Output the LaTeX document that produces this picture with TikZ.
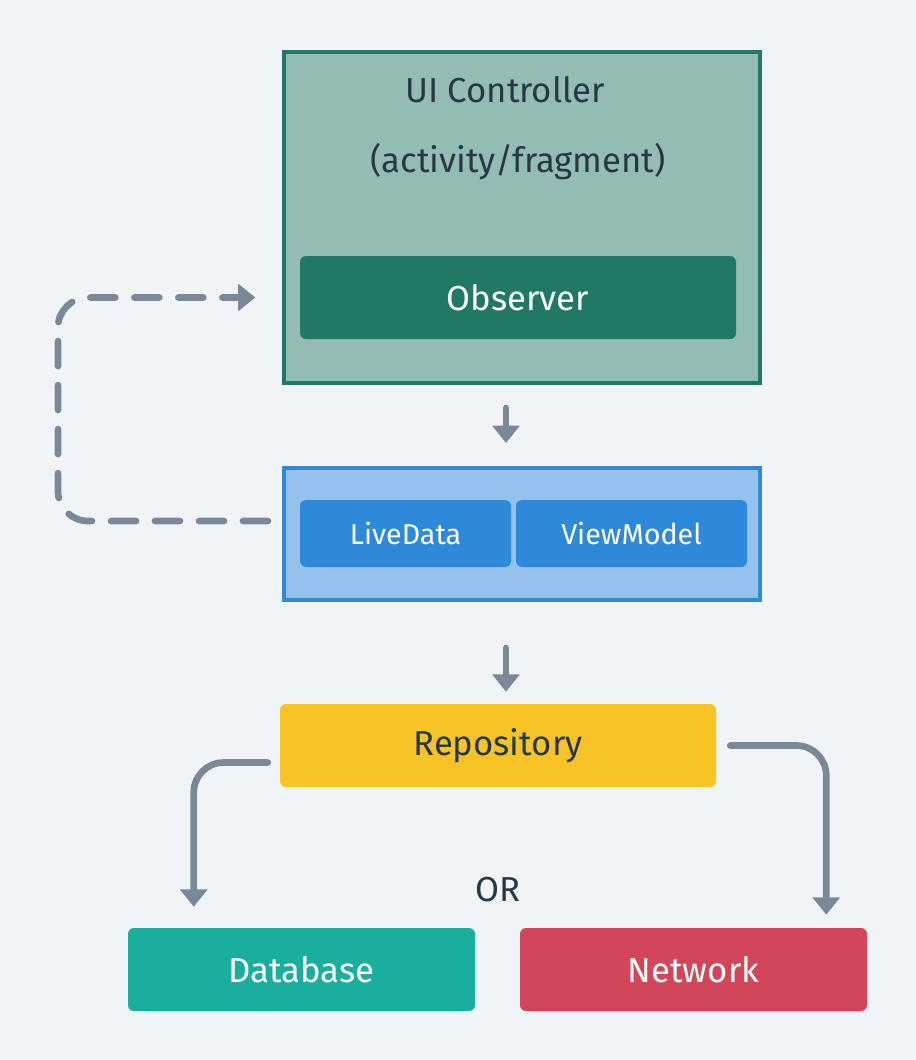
\documentclass[tikz,border=0pt]{standalone}
\usepackage{fontspec}
\setmainfont{Fira Sans}
\usetikzlibrary{arrows.meta}

\definecolor{bgcol}{HTML}{F0F4F7}
\definecolor{tealpale}{HTML}{93BDB4}
\definecolor{tealdark}{HTML}{217867}
\definecolor{bluepale}{HTML}{95C2EC}
\definecolor{bluedark}{HTML}{2E89DA}
\definecolor{repocol}{HTML}{F7C325}
\definecolor{dbcol}{HTML}{1AAE9F}
\definecolor{netcol}{HTML}{D3455B}
\definecolor{arrowcol}{HTML}{7B8897}
\definecolor{inkcol}{HTML}{263746}

\begin{document}
\begin{tikzpicture}[x=0.75pt, y=-0.75pt,
        bigtext/.style={font=\fontsize{26}{30}\selectfont},
        smalltext/.style={font=\fontsize{21.5}{26}\selectfont},
        frame/.style={draw, line width=3pt, inner sep=0pt},
        pill/.style={rounded corners=4.5pt, inner sep=0pt, text=white},
        flow/.style={draw=arrowcol, line width=5pt, line cap=round,
            -{Triangle[length=13pt, width=20pt]}},
        dashflow/.style={flow, dash pattern=on 18.75pt off 14.25pt}]
        % Background
        \fill[bgcol] (0,0) rectangle (916,1060);

        % Pieces
        \node (ui) at (522, 217.5) [frame, draw=tealdark, fill=tealpale,
            minimum width=357pt, minimum height=248.25pt] {};
        \node (uititle) at (505, 90) [bigtext, text=inkcol] {UI Controller};
        \node (uisub) at (518, 162) [bigtext, text=inkcol] {(activity/fragment)};
        \node (obs) at (518, 297.5) [pill, fill=tealdark, bigtext,
            minimum width=327pt, minimum height=62.25pt] {Observer};

        \node (vmbox) at (522, 534) [frame, draw=bluedark, fill=bluepale,
            minimum width=357pt, minimum height=99pt] {};
        \node (live) at (405.5, 533.5) [pill, fill=bluedark, smalltext,
            minimum width=158.25pt, minimum height=50.25pt] {LiveData};
        \node (vm) at (631.5, 533.5) [pill, fill=bluedark, smalltext,
            minimum width=173.25pt, minimum height=50.25pt] {ViewModel};

        \node (repo) at (498, 745.5) [pill, fill=repocol, text=inkcol, bigtext,
            minimum width=327pt, minimum height=62.25pt] {Repository};
        \node (or) at (498, 890) [bigtext, text=inkcol] {OR};
        \node (db) at (301.5, 969.5) [pill, fill=dbcol, bigtext,
            minimum width=260.25pt, minimum height=62.25pt] {Database};
        \node (net) at (693.5, 969.5) [pill, fill=netcol, bigtext,
            minimum width=260.25pt, minimum height=62.25pt] {Network};

        % Arrows
        \draw[flow] ([shift={(-16,23)}]ui.south) -- ([shift={(-16,-23)}]vmbox.north);
        \draw[flow] ([shift={(-16,46)}]vmbox.south) -- ([shift={(8,-12)}]repo.north);
        \draw[flow, rounded corners=22.5pt] ([shift={(-12,17)}]repo.west)
            -| ([shift={(66,-21)}]db.north west);
        \draw[flow, rounded corners=22.5pt] ([shift={(14,0)}]repo.east)
            -| ([shift={(-41,-13)}]net.north east);
        \draw[dashflow, rounded corners=22.5pt] ([shift={(-14,-13)}]vmbox.west)
            -- ++(-210,0) |- ([xshift=-20]obs.west -| ui.west);
    \end{tikzpicture}
\end{document}
